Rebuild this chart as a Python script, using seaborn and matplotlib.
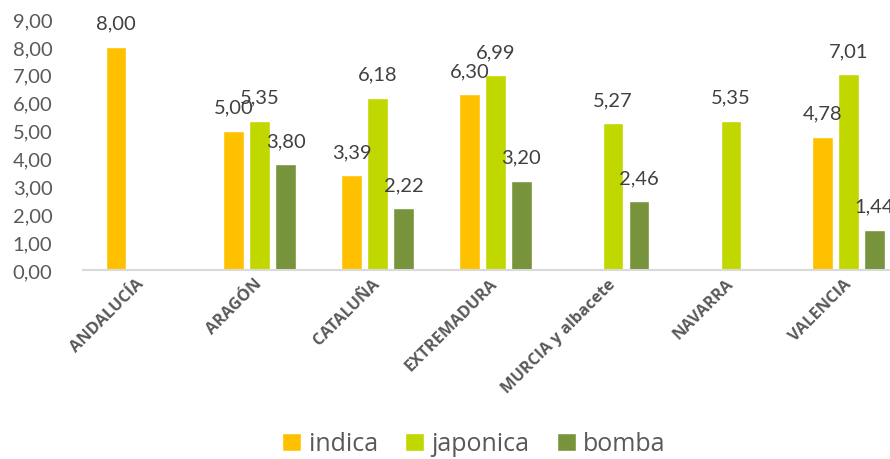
import matplotlib
matplotlib.use("Agg")
import matplotlib.pyplot as plt
import numpy as np
import pandas as pd
import seaborn as sns

# Data
regiones = ["ANDALUCÍA", "ARAGÓN", "CATALUÑA", "EXTREMADURA",
            "MURCIA y albacete", "NAVARRA", "VALENCIA"]
variedades = ["indica", "japonica", "bomba"]
indica = [8.00, 5.00, 3.39, 6.30, np.nan, np.nan, 4.78]
japonica = [np.nan, 5.35, 6.18, 6.99, 5.27, 5.35, 7.01]
bomba = [np.nan, 3.80, 2.22, 3.20, 2.46, np.nan, 1.44]
colores = ["#FFC000", "#C0D800", "#77933C"]

df = pd.DataFrame({"region": regiones, "indica": indica,
                   "japonica": japonica, "bomba": bomba})
df = df.melt(id_vars="region", var_name="variedad", value_name="valor").dropna()

sns.set_style("white")
plt.rcParams["font.family"] = ["Lato", "DejaVu Sans"]

fig = plt.figure(figsize=(8.9, 4.6), dpi=100)
ax = fig.add_axes([83 / 890, 189 / 460, 824.6 / 890, 251 / 460])

sns.barplot(data=df, x="region", y="valor", hue="variedad", order=regiones,
            hue_order=variedades, palette=colores, saturation=1, width=0.66,
            gap=0.2, errorbar=None, legend=True, ax=ax)

ax.set_xlim(-0.5, 6.5)
ax.set_ylim(0, 9)
ax.set_yticks(np.arange(0, 10, 1))
ax.set_yticklabels([f"{v:.2f}".replace(".", ",") for v in np.arange(0, 10, 1)],
                   fontsize=14.5, color="#595959")
ax.tick_params(axis="y", length=0, pad=22)
ax.tick_params(axis="x", length=0, pad=8)
ax.set_xticks(range(len(regiones)))
ax.set_xticklabels(regiones, rotation=45, ha="right", va="center",
                   rotation_mode="anchor", fontsize=11.8, fontweight="bold",
                   color="#595959", family=["Open Sans", "DejaVu Sans"])
ax.set_xlabel("")
ax.set_ylabel("")
for s in ["top", "right", "left"]:
    ax.spines[s].set_visible(False)
ax.spines["bottom"].set_color("#D9D9D9")
ax.spines["bottom"].set_linewidth(1.5)

for cont in ax.containers:
    for bar in cont:
        h = bar.get_height()
        if np.isnan(h):
            continue
        ax.annotate(f"{h:.2f}".replace(".", ","),
                    (bar.get_x() + bar.get_width() / 2, h),
                    xytext=(0, 17), textcoords="offset points",
                    ha="center", va="center", fontsize=14.5, color="#404040",
                    annotation_clip=False)

handles, labels = ax.get_legend_handles_labels()
ax.get_legend().remove()
fig.legend(handles, labels, loc="center", bbox_to_anchor=(474 / 890, 15 / 460),
           ncol=3, frameon=False, handlelength=0.75,
           handleheight=0.75, handletextpad=0.3, columnspacing=1.1,
           labelcolor="#595959", prop={"family": ["Open Sans", "DejaVu Sans"], "size": 18})

fig.savefig("out.png", dpi=100)
